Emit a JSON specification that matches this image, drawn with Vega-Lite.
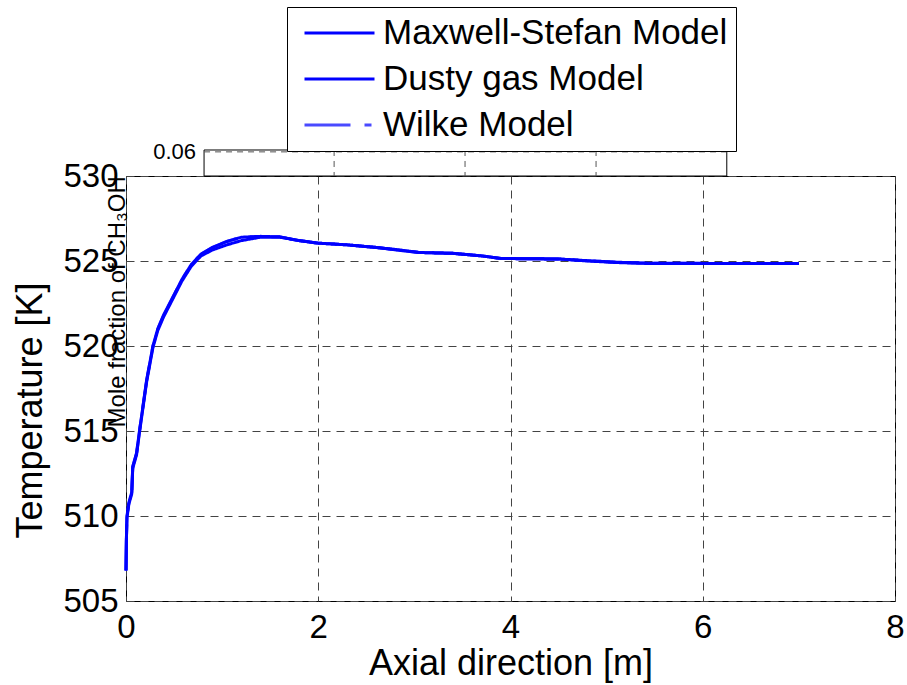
{
  "$schema": "https://vega.github.io/schema/vega-lite/v6.json",
  "width": 769,
  "height": 425,
  "autosize": {"type": "none"},
  "padding": {"left": 126, "top": 176, "right": 12, "bottom": 84},
  "background": "white",
  "config": {
    "font": "Liberation Sans",
    "view": {"stroke": "black", "strokeWidth": 1},
    "axis": {
      "labelFont": "Liberation Sans",
      "labelFontSize": 33,
      "labelColor": "black",
      "labelFlush": false,
      "labelOverlap": false,
      "titleFont": "Liberation Sans",
      "titleFontSize": 36,
      "titleFontWeight": "normal",
      "titleColor": "black",
      "domain": false,
      "ticks": false,
      "grid": true,
      "gridColor": "#444444",
      "gridDash": [8, 6],
      "gridWidth": 1,
      "gridOpacity": 1
    },
    "axisX": {"labelPadding": 10, "titleY": 73, "titleBaseline": "alphabetic", "titleAnchor": "middle"},
    "axisY": {"labelPadding": 8, "titleX": -85, "titleY": 234, "titleBaseline": "alphabetic", "titleAngle": 270, "titleAlign": "center"}
  },
  "datasets": {
    "wilke": [
      {"model": "Wilke Model", "x": 0, "T": 506.8},
      {"model": "Wilke Model", "x": 0.004, "T": 508.6},
      {"model": "Wilke Model", "x": 0.01, "T": 510.0},
      {"model": "Wilke Model", "x": 0.03, "T": 510.8},
      {"model": "Wilke Model", "x": 0.06, "T": 511.4},
      {"model": "Wilke Model", "x": 0.07, "T": 512.9},
      {"model": "Wilke Model", "x": 0.11, "T": 513.7},
      {"model": "Wilke Model", "x": 0.14, "T": 515.0},
      {"model": "Wilke Model", "x": 0.17, "T": 516.2},
      {"model": "Wilke Model", "x": 0.215, "T": 518.0},
      {"model": "Wilke Model", "x": 0.28, "T": 520.0},
      {"model": "Wilke Model", "x": 0.33, "T": 521.0},
      {"model": "Wilke Model", "x": 0.39, "T": 521.8},
      {"model": "Wilke Model", "x": 0.49, "T": 522.9},
      {"model": "Wilke Model", "x": 0.58, "T": 523.9},
      {"model": "Wilke Model", "x": 0.68, "T": 524.8},
      {"model": "Wilke Model", "x": 0.78, "T": 525.4},
      {"model": "Wilke Model", "x": 0.9, "T": 525.8},
      {"model": "Wilke Model", "x": 1.05, "T": 526.15},
      {"model": "Wilke Model", "x": 1.2, "T": 526.4},
      {"model": "Wilke Model", "x": 1.4, "T": 526.45},
      {"model": "Wilke Model", "x": 1.6, "T": 526.42},
      {"model": "Wilke Model", "x": 1.8, "T": 526.2},
      {"model": "Wilke Model", "x": 2.0, "T": 526.05},
      {"model": "Wilke Model", "x": 2.3, "T": 525.95},
      {"model": "Wilke Model", "x": 2.6, "T": 525.8},
      {"model": "Wilke Model", "x": 2.85, "T": 525.65},
      {"model": "Wilke Model", "x": 3.05, "T": 525.5},
      {"model": "Wilke Model", "x": 3.4, "T": 525.45},
      {"model": "Wilke Model", "x": 3.7, "T": 525.3},
      {"model": "Wilke Model", "x": 3.9, "T": 525.15},
      {"model": "Wilke Model", "x": 4.2, "T": 525.13},
      {"model": "Wilke Model", "x": 4.5, "T": 525.12},
      {"model": "Wilke Model", "x": 4.8, "T": 525.02},
      {"model": "Wilke Model", "x": 5.1, "T": 524.93},
      {"model": "Wilke Model", "x": 5.45, "T": 524.87},
      {"model": "Wilke Model", "x": 6.0, "T": 524.86},
      {"model": "Wilke Model", "x": 6.5, "T": 524.86},
      {"model": "Wilke Model", "x": 7.0, "T": 524.86}
    ],
    "curves": [
      {"model": "Maxwell-Stefan Model", "x": 0, "T": 506.8},
      {"model": "Maxwell-Stefan Model", "x": 0.004, "T": 508.6},
      {"model": "Maxwell-Stefan Model", "x": 0.01, "T": 510.0},
      {"model": "Maxwell-Stefan Model", "x": 0.03, "T": 510.8},
      {"model": "Maxwell-Stefan Model", "x": 0.06, "T": 511.4},
      {"model": "Maxwell-Stefan Model", "x": 0.07, "T": 512.9},
      {"model": "Maxwell-Stefan Model", "x": 0.11, "T": 513.7},
      {"model": "Maxwell-Stefan Model", "x": 0.14, "T": 515.0},
      {"model": "Maxwell-Stefan Model", "x": 0.17, "T": 516.2},
      {"model": "Maxwell-Stefan Model", "x": 0.215, "T": 518.0},
      {"model": "Maxwell-Stefan Model", "x": 0.28, "T": 520.0},
      {"model": "Maxwell-Stefan Model", "x": 0.33, "T": 521.0},
      {"model": "Maxwell-Stefan Model", "x": 0.39, "T": 521.8},
      {"model": "Maxwell-Stefan Model", "x": 0.49, "T": 522.9},
      {"model": "Maxwell-Stefan Model", "x": 0.58, "T": 523.9},
      {"model": "Maxwell-Stefan Model", "x": 0.68, "T": 524.8},
      {"model": "Maxwell-Stefan Model", "x": 0.78, "T": 525.4},
      {"model": "Maxwell-Stefan Model", "x": 0.9, "T": 525.8},
      {"model": "Maxwell-Stefan Model", "x": 1.05, "T": 526.15},
      {"model": "Maxwell-Stefan Model", "x": 1.2, "T": 526.4},
      {"model": "Maxwell-Stefan Model", "x": 1.4, "T": 526.45},
      {"model": "Maxwell-Stefan Model", "x": 1.6, "T": 526.42},
      {"model": "Maxwell-Stefan Model", "x": 1.8, "T": 526.2},
      {"model": "Maxwell-Stefan Model", "x": 2.0, "T": 526.05},
      {"model": "Maxwell-Stefan Model", "x": 2.3, "T": 525.95},
      {"model": "Maxwell-Stefan Model", "x": 2.6, "T": 525.8},
      {"model": "Maxwell-Stefan Model", "x": 2.85, "T": 525.65},
      {"model": "Maxwell-Stefan Model", "x": 3.05, "T": 525.5},
      {"model": "Maxwell-Stefan Model", "x": 3.4, "T": 525.45},
      {"model": "Maxwell-Stefan Model", "x": 3.7, "T": 525.3},
      {"model": "Maxwell-Stefan Model", "x": 3.9, "T": 525.15},
      {"model": "Maxwell-Stefan Model", "x": 4.2, "T": 525.13},
      {"model": "Maxwell-Stefan Model", "x": 4.5, "T": 525.12},
      {"model": "Maxwell-Stefan Model", "x": 4.8, "T": 525.02},
      {"model": "Maxwell-Stefan Model", "x": 5.1, "T": 524.93},
      {"model": "Maxwell-Stefan Model", "x": 5.45, "T": 524.87},
      {"model": "Maxwell-Stefan Model", "x": 6.0, "T": 524.86},
      {"model": "Maxwell-Stefan Model", "x": 6.5, "T": 524.86},
      {"model": "Maxwell-Stefan Model", "x": 7.0, "T": 524.86},

      {"model": "Dusty gas Model", "x": 0, "T": 506.8},
      {"model": "Dusty gas Model", "x": 0.004, "T": 508.5},
      {"model": "Dusty gas Model", "x": 0.01, "T": 509.9},
      {"model": "Dusty gas Model", "x": 0.03, "T": 510.7},
      {"model": "Dusty gas Model", "x": 0.06, "T": 511.3},
      {"model": "Dusty gas Model", "x": 0.07, "T": 512.8},
      {"model": "Dusty gas Model", "x": 0.11, "T": 513.6},
      {"model": "Dusty gas Model", "x": 0.14, "T": 514.9},
      {"model": "Dusty gas Model", "x": 0.17, "T": 516.1},
      {"model": "Dusty gas Model", "x": 0.215, "T": 517.9},
      {"model": "Dusty gas Model", "x": 0.28, "T": 519.9},
      {"model": "Dusty gas Model", "x": 0.33, "T": 520.9},
      {"model": "Dusty gas Model", "x": 0.39, "T": 521.7},
      {"model": "Dusty gas Model", "x": 0.49, "T": 522.8},
      {"model": "Dusty gas Model", "x": 0.58, "T": 523.8},
      {"model": "Dusty gas Model", "x": 0.68, "T": 524.7},
      {"model": "Dusty gas Model", "x": 0.78, "T": 525.3},
      {"model": "Dusty gas Model", "x": 0.9, "T": 525.65},
      {"model": "Dusty gas Model", "x": 1.05, "T": 525.95},
      {"model": "Dusty gas Model", "x": 1.2, "T": 526.2},
      {"model": "Dusty gas Model", "x": 1.4, "T": 526.4},
      {"model": "Dusty gas Model", "x": 1.6, "T": 526.4},
      {"model": "Dusty gas Model", "x": 1.8, "T": 526.2},
      {"model": "Dusty gas Model", "x": 2.0, "T": 526.05},
      {"model": "Dusty gas Model", "x": 2.3, "T": 525.95},
      {"model": "Dusty gas Model", "x": 2.6, "T": 525.8},
      {"model": "Dusty gas Model", "x": 2.85, "T": 525.62},
      {"model": "Dusty gas Model", "x": 3.05, "T": 525.5},
      {"model": "Dusty gas Model", "x": 3.4, "T": 525.45},
      {"model": "Dusty gas Model", "x": 3.7, "T": 525.3},
      {"model": "Dusty gas Model", "x": 3.9, "T": 525.15},
      {"model": "Dusty gas Model", "x": 4.2, "T": 525.13},
      {"model": "Dusty gas Model", "x": 4.5, "T": 525.12},
      {"model": "Dusty gas Model", "x": 4.8, "T": 525.0},
      {"model": "Dusty gas Model", "x": 5.1, "T": 524.91},
      {"model": "Dusty gas Model", "x": 5.45, "T": 524.85},
      {"model": "Dusty gas Model", "x": 6.0, "T": 524.85},
      {"model": "Dusty gas Model", "x": 6.5, "T": 524.85},
      {"model": "Dusty gas Model", "x": 7.0, "T": 524.85}
    ],
    "box2": [
      {"x": 0.812, "x2": 6.25, "y": 531.53, "y2": 530}
    ],
    "box2grid": [
      {"x": 0.812, "x2": 6.25, "y": 531.42, "y2": 531.42},
      {"x": 2.165, "x2": 2.165, "y": 531.53, "y2": 530},
      {"x": 3.527, "x2": 3.527, "y": 531.53, "y2": 530},
      {"x": 4.89, "x2": 4.89, "y": 531.53, "y2": 530}
    ],
    "box2label": [
      {"x": 0.728, "y": 531.44, "label": "0.06"}
    ],
    "ylabel2": [
      {"x": -0.01, "y": 522.6, "label": "Mole fraction of CH₃OH"}
    ]
  },
  "layer": [
    {
      "data": {"name": "box2"},
      "mark": {"type": "rect", "fill": "white", "stroke": "black", "strokeWidth": 1, "clip": false},
      "encoding": {
        "x": {"field": "x", "type": "quantitative", "scale": {"domain": [0, 8], "nice": false}, "title": "Axial direction [m]", "axis": {"values": [0, 2, 4, 6, 8]}},
        "x2": {"field": "x2"},
        "y": {"field": "y", "type": "quantitative", "scale": {"domain": [505, 530], "nice": false, "zero": false}, "title": "Temperature [K]", "axis": {"values": [505, 510, 515, 520, 525, 530]}},
        "y2": {"field": "y2"}
      }
    },
    {
      "data": {"name": "box2grid"},
      "mark": {"type": "rule", "color": "#555555", "strokeWidth": 1, "strokeDash": [6, 5], "clip": false},
      "encoding": {
        "x": {"field": "x", "type": "quantitative", "scale": {"domain": [0, 8], "nice": false}, "title": "Axial direction [m]", "axis": {"values": [0, 2, 4, 6, 8]}},
        "x2": {"field": "x2"},
        "y": {"field": "y", "type": "quantitative", "scale": {"domain": [505, 530], "nice": false, "zero": false}, "title": "Temperature [K]", "axis": {"values": [505, 510, 515, 520, 525, 530]}},
        "y2": {"field": "y2"}
      }
    },
    {
      "data": {"name": "box2label"},
      "mark": {"type": "text", "align": "right", "baseline": "middle", "font": "Liberation Sans", "fontSize": 22, "color": "black", "clip": false},
      "encoding": {
        "x": {"field": "x", "type": "quantitative", "scale": {"domain": [0, 8], "nice": false}, "title": "Axial direction [m]", "axis": {"values": [0, 2, 4, 6, 8]}},
        "y": {"field": "y", "type": "quantitative", "scale": {"domain": [505, 530], "nice": false, "zero": false}, "title": "Temperature [K]", "axis": {"values": [505, 510, 515, 520, 525, 530]}},
        "text": {"field": "label"}
      }
    },
    {
      "data": {"name": "wilke"},
      "mark": {"type": "line", "clip": false, "strokeJoin": "round"},
      "encoding": {
        "x": {"field": "x", "type": "quantitative", "scale": {"domain": [0, 8], "nice": false}, "title": "Axial direction [m]", "axis": {"values": [0, 2, 4, 6, 8]}},
        "y": {"field": "T", "type": "quantitative", "scale": {"domain": [505, 530], "nice": false, "zero": false}, "title": "Temperature [K]", "axis": {"values": [505, 510, 515, 520, 525, 530]}},
        "color": {
          "field": "model", "type": "nominal",
          "scale": {"domain": ["Maxwell-Stefan Model", "Dusty gas Model", "Wilke Model"], "range": ["#0000ff", "#0000ff", "#4a4aff"]},
          "legend": {
            "title": null,
            "orient": "none",
            "legendX": 161,
            "legendY": -169,
            "direction": "vertical",
            "strokeColor": "black",
            "fillColor": "white",
            "padding": 8,
            "symbolType": "stroke",
            "symbolSize": 4900,
            "symbolOffset": 8,
            "clipHeight": 36,
            "rowPadding": 10,
            "labelFont": "Liberation Sans",
            "labelFontSize": 35,
            "labelColor": "black",
            "labelOffset": 7,
            "labelLimit": 600
          }
        },
        "strokeDash": {
          "field": "model", "type": "nominal",
          "scale": {"domain": ["Maxwell-Stefan Model", "Dusty gas Model", "Wilke Model"], "range": [[1, 0], [1, 0], [46, 14, 7, 14]]},
          "legend": null
        },
        "strokeWidth": {
          "field": "model", "type": "nominal",
          "scale": {"domain": ["Maxwell-Stefan Model", "Dusty gas Model", "Wilke Model"], "range": [3, 3, 1.2]},
          "legend": null
        },
        "order": {"field": "x", "type": "quantitative"}
      }
    },
    {
      "data": {"name": "curves"},
      "mark": {"type": "line", "clip": false, "strokeJoin": "round"},
      "encoding": {
        "x": {"field": "x", "type": "quantitative", "scale": {"domain": [0, 8], "nice": false}, "title": "Axial direction [m]", "axis": {"values": [0, 2, 4, 6, 8]}},
        "y": {"field": "T", "type": "quantitative", "scale": {"domain": [505, 530], "nice": false, "zero": false}, "title": "Temperature [K]", "axis": {"values": [505, 510, 515, 520, 525, 530]}},
        "color": {
          "field": "model", "type": "nominal",
          "scale": {"domain": ["Maxwell-Stefan Model", "Dusty gas Model", "Wilke Model"], "range": ["#0000ff", "#0000ff", "#4a4aff"]}
        },
        "strokeDash": {
          "field": "model", "type": "nominal",
          "scale": {"domain": ["Maxwell-Stefan Model", "Dusty gas Model", "Wilke Model"], "range": [[1, 0], [1, 0], [46, 14, 7, 14]]},
          "legend": null
        },
        "strokeWidth": {
          "field": "model", "type": "nominal",
          "scale": {"domain": ["Maxwell-Stefan Model", "Dusty gas Model", "Wilke Model"], "range": [3, 3, 1.2]},
          "legend": null
        },
        "order": {"field": "x", "type": "quantitative"}
      }
    },
    {
      "data": {"name": "ylabel2"},
      "mark": {"type": "text", "angle": 270, "align": "center", "baseline": "alphabetic", "font": "Liberation Sans", "fontSize": 24, "color": "black", "clip": false},
      "encoding": {
        "x": {"field": "x", "type": "quantitative", "scale": {"domain": [0, 8], "nice": false}, "title": "Axial direction [m]", "axis": {"values": [0, 2, 4, 6, 8]}},
        "y": {"field": "y", "type": "quantitative", "scale": {"domain": [505, 530], "nice": false, "zero": false}, "title": "Temperature [K]", "axis": {"values": [505, 510, 515, 520, 525, 530]}},
        "text": {"field": "label"}
      }
    }
  ]
}
